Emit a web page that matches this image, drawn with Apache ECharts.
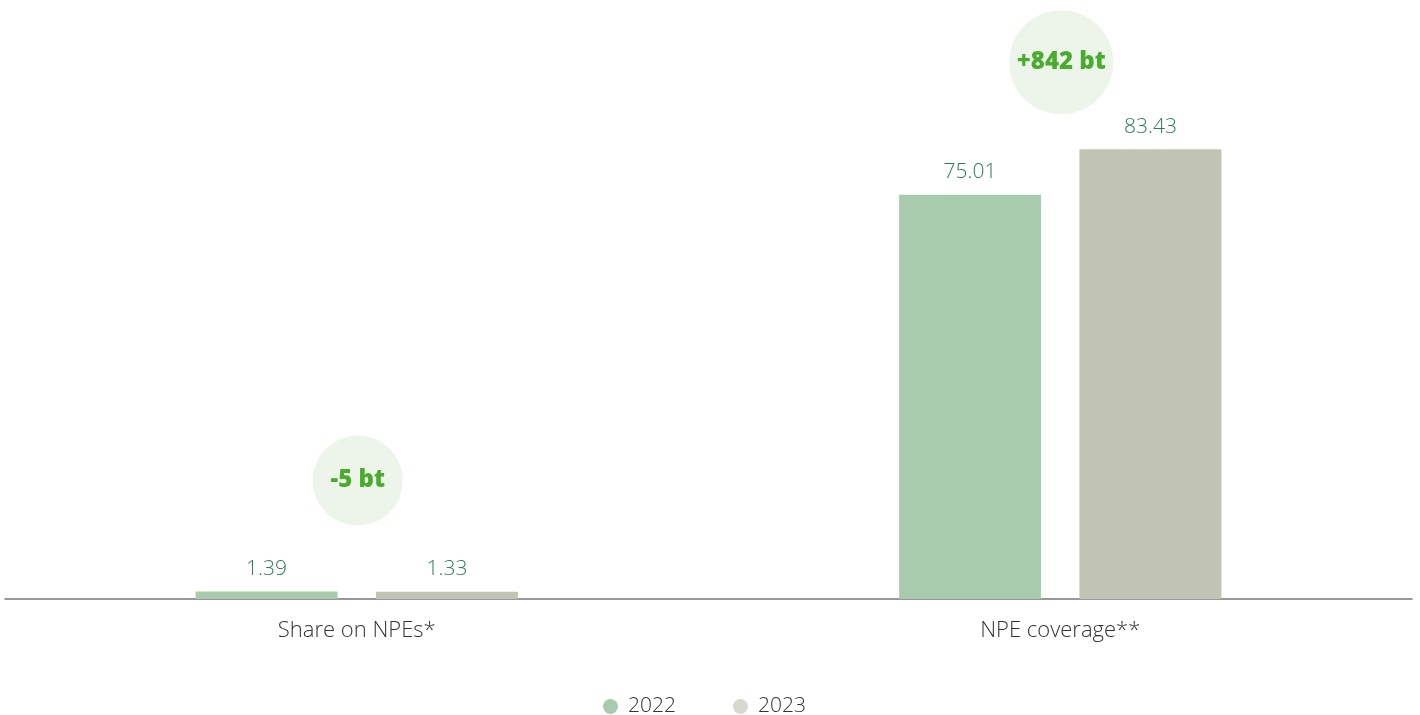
<!DOCTYPE html>
<html>
<head>
<meta charset="utf-8">
<script src="https://cdn.jsdelivr.net/npm/echarts@6/dist/echarts.min.js"></script>
<style>
  html, body { margin: 0; padding: 0; background: #ffffff; }
  #chart { width: 1420px; height: 715px; }
</style>
</head>
<body>
<div id="chart"></div>
<script>
// Asset quality indicators, 2022 vs 2023
const categories = ['Share on NPEs*', 'NPE coverage**'];
const seriesNames = ['2022', '2023'];
const values2022 = [1.39, 75.01];
const values2023 = [1.33, 83.43];
const changeLabels = ['-5 bt', '+842 bt'];

// Styling / layout
const COLOR_2022 = '#a9cbad';
const COLOR_2023 = '#c1c4b2';
const LEGEND_2023 = '#d6d9ce';
const LABEL_COLOR = '#2f7d57';
const BADGE_FILL = '#edf5ea';
const BADGE_TEXT = '#4aac2f';
const FONT = '"Open Sans", "Noto Sans", sans-serif';
// badge radius and vertical gap (px) above the taller bar of each group
const badgeRadius = [45, 52];
const badgeLift = [111, 87];

const chart = echarts.init(document.getElementById('chart'));

const valueLabel = {
  show: true,
  position: 'top',
  distance: 12,
  color: LABEL_COLOR,
  fontFamily: FONT,
  fontWeight: 300,
  fontSize: 21
};

chart.setOption({
  backgroundColor: '#ffffff',
  animation: false,
  grid: { left: 5, right: 8, top: 60, bottom: 116, containLabel: false },
  legend: {
    bottom: -2,
    left: 603,
    padding: 0,
    itemGap: 57,
    itemWidth: 15,
    itemHeight: 15,
    icon: 'circle',
    textStyle: { fontFamily: FONT, fontSize: 21, color: '#333333', fontWeight: 300, padding: [0, 0, 0, 5] },
    data: [
      { name: seriesNames[0], itemStyle: { color: COLOR_2022 } },
      { name: seriesNames[1], itemStyle: { color: LEGEND_2023 } }
    ]
  },
  xAxis: {
    type: 'category',
    data: categories,
    axisLine: { show: true, lineStyle: { color: '#777777', width: 1.5 } },
    axisTick: { show: false },
    axisLabel: { margin: 21, color: '#333333', fontFamily: FONT, fontSize: 22, fontWeight: 300 }
  },
  yAxis: {
    type: 'value',
    min: 0,
    max: 100,
    show: false,
    splitLine: { show: false }
  },
  series: [
    {
      name: seriesNames[0],
      type: 'bar',
      data: values2022,
      barWidth: 142,
      barGap: '27%',
      itemStyle: { color: COLOR_2022 },
      label: valueLabel
    },
    {
      name: seriesNames[1],
      type: 'bar',
      data: values2023,
      barWidth: 142,
      itemStyle: { color: COLOR_2023 },
      label: valueLabel
    }
  ]
});

// Change badges above each category group
function drawBadges() {
  const elements = categories.map((cat, i) => {
    const top = Math.max(values2022[i], values2023[i]);
    const [cx, cy] = chart.convertToPixel({ xAxisIndex: 0, yAxisIndex: 0 }, [cat, top]);
    return {
      type: 'group',
      x: cx + 1,
      y: cy - badgeLift[i],
      children: [
        { type: 'circle', shape: { cx: 0, cy: 0, r: badgeRadius[i] }, style: { fill: BADGE_FILL } },
        {
          type: 'text',
          style: {
            text: changeLabels[i],
            x: 0, y: 0,
            align: 'center',
            verticalAlign: 'middle',
            fill: BADGE_TEXT,
            font: '800 24px ' + FONT
          }
        }
      ]
    };
  });
  chart.setOption({ graphic: elements });
}
drawBadges();
</script>
</body>
</html>
